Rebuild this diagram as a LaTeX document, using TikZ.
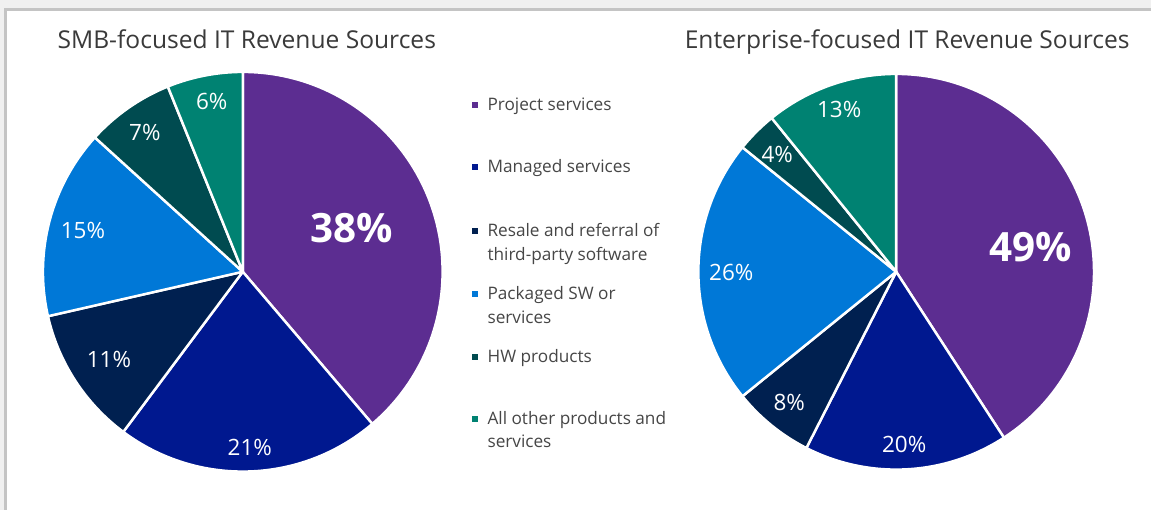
\documentclass[tikz,border=0pt]{standalone}
\usepackage{fontspec}
\setmainfont{Open Sans}
\usepackage{xcolor}
\usepackage{tikz}

\definecolor{projc}{HTML}{5C2D91}
\definecolor{mgdc}{HTML}{00188F}
\definecolor{resc}{HTML}{002050}
\definecolor{pkgc}{HTML}{0078D7}
\definecolor{hwc}{HTML}{004B50}
\definecolor{othc}{HTML}{008272}
\definecolor{titlegray}{HTML}{3A3A3A}
\definecolor{keygray}{HTML}{464646}
\definecolor{outergray}{HTML}{F0F0F0}
\definecolor{framegray}{HTML}{C4C4C4}

\begin{document}
\begin{tikzpicture}[
x=0.02cm, y=-0.02cm,
every node/.style={inner sep=0pt, outer sep=0pt},
slice/.style={draw=white, line width=1.4pt, line join=round},
pct/.style={text=white, font=\fontsize{12.8}{15}\selectfont},
big/.style={text=white, font=\fontsize{23}{27}\selectfont\bfseries},
ttl/.style={text=titlegray, font=\fontsize{14}{17}\selectfont, anchor=base},
key/.style={minimum size=3.4pt},
keytext/.style={text=keygray, font=\fontsize{9.8}{13.4}\selectfont, align=left, anchor=north west}
]

% ====== Frame ======
\fill[outergray] (0,0) rectangle (1152,510);
\fill[white] (7,10) rectangle (1152,510);
\draw[framegray, line width=1.2pt] (5.5,510) -- (5.5,9.5) -- (1152,9.5);

% ====== Titles ======
\node[ttl] (smbtitle) at (247,49) {SMB-focused IT Revenue Sources};
\node[ttl] (enttitle) at (908,49) {Enterprise-focused IT Revenue Sources};

% ====== SMB Pie ======
\coordinate (smb) at (243,272);
\filldraw[slice, fill=projc] (smb) -- ++(-90:200) arc[start angle=-90, end angle=49.59, radius=200] -- cycle;
\filldraw[slice, fill=mgdc] (smb) -- ++(49.59:200) arc[start angle=49.59, end angle=126.73, radius=200] -- cycle;
\filldraw[slice, fill=resc] (smb) -- ++(126.73:200) arc[start angle=126.73, end angle=167.14, radius=200] -- cycle;
\filldraw[slice, fill=pkgc] (smb) -- ++(167.14:200) arc[start angle=167.14, end angle=222.24, radius=200] -- cycle;
\filldraw[slice, fill=hwc] (smb) -- ++(222.24:200) arc[start angle=222.24, end angle=247.96, radius=200] -- cycle;
\filldraw[slice, fill=othc] (smb) -- ++(247.96:200) arc[start angle=247.96, end angle=270, radius=200] -- cycle;

\node[big] (smbproj) at (352,228) {38\%};
\node[pct] (smbmgd) at (250,448) {21\%};
\node[pct] (smbres) at (109,360) {11\%};
\node[pct] (smbpkg) at (83,231) {15\%};
\node[pct] (smbhw) at (145,133) {7\%};
\node[pct] (smboth) at (212,102) {6\%};

% ====== Enterprise Pie ======
\coordinate (ent) at (897,272);
\filldraw[slice, fill=projc] (ent) -- ++(-90:198) arc[start angle=-90, end angle=57, radius=198] -- cycle;
\filldraw[slice, fill=mgdc] (ent) -- ++(57:198) arc[start angle=57, end angle=117, radius=198] -- cycle;
\filldraw[slice, fill=resc] (ent) -- ++(117:198) arc[start angle=117, end angle=141, radius=198] -- cycle;
\filldraw[slice, fill=pkgc] (ent) -- ++(141:198) arc[start angle=141, end angle=219, radius=198] -- cycle;
\filldraw[slice, fill=hwc] (ent) -- ++(219:198) arc[start angle=219, end angle=231, radius=198] -- cycle;
\filldraw[slice, fill=othc] (ent) -- ++(231:198) arc[start angle=231, end angle=270, radius=198] -- cycle;

\node[big] (entproj) at (1032,247) {49\%};
\node[pct] (entmgd) at (905,445) {20\%};
\node[pct] (entres) at (790,403) {8\%};
\node[pct] (entpkg) at (732,273) {26\%};
\node[pct] (enthw) at (778,155) {4\%};
\node[pct] (entoth) at (840,110) {13\%};

% ====== Legend ======
\node[key, fill=projc] (kproj) at (475,105) {};
\node[keytext] (tproj) at (488,94) {\strut Project services};
\node[key, fill=mgdc] (kmgd) at (475,167.5) {};
\node[keytext] (tmgd) at (488,156.5) {\strut Managed services};
\node[key, fill=resc] (kres) at (475,231.5) {};
\node[keytext] (tres) at (488,220.5) {\strut Resale and referral of\\third-party software};
\node[key, fill=pkgc] (kpkg) at (475,294.5) {};
\node[keytext] (tpkg) at (488,283.5) {\strut Packaged SW or\\services};
\node[key, fill=hwc] (khw) at (475,357) {};
\node[keytext] (thw) at (488,346) {\strut HW products};
\node[key, fill=othc] (koth) at (475,419) {};
\node[keytext] (toth) at (488,408) {\strut All other products and\\services};

\end{tikzpicture}
\end{document}
